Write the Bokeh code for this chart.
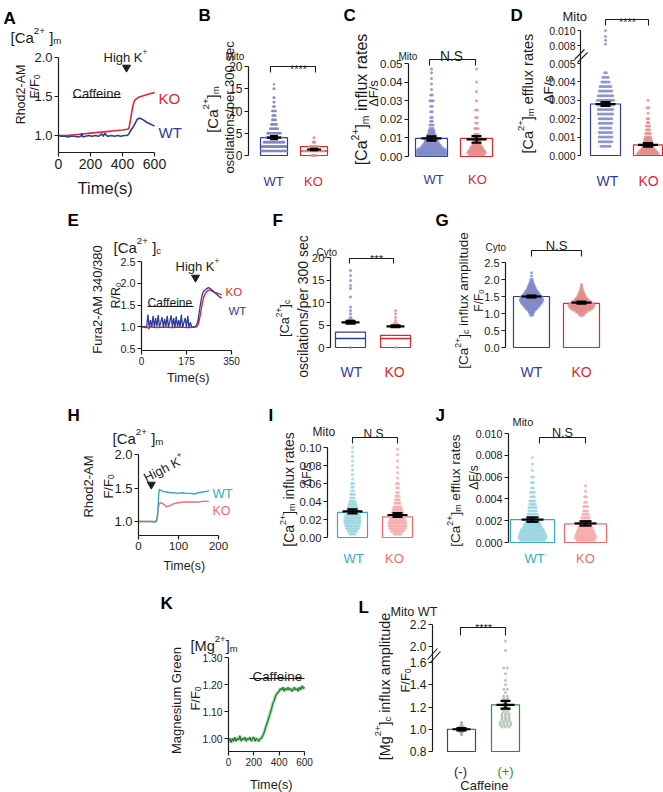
import math
from bokeh.plotting import figure
from bokeh.models import Range1d, FixedTicker, Label
from bokeh.layouts import row, column
from bokeh.embed import file_html
from bokeh.resources import INLINE

# ======================= DATA =======================
# ---- A : Rhod2-AM [Ca2+]m traces (caffeine, high K+) ----
A_KO_t = [0, 50, 100, 150, 200, 250, 300, 350, 400, 430, 440, 450, 460, 470, 480, 500, 530, 560, 600]
A_KO_y = [1.00, 1.00, 1.01, 1.02, 1.03, 1.04, 1.05, 1.06, 1.07, 1.08, 1.09, 1.20, 1.33, 1.42, 1.46, 1.49, 1.51, 1.53, 1.55]
A_WT_t = [0, 20, 40, 60, 80, 100, 120, 140, 146, 152, 170, 190, 210, 230, 250, 270, 280, 290, 300, 310, 330, 350, 370, 390, 410, 430, 440, 450, 460, 470, 480, 490, 500, 510, 530, 550, 570, 600]
A_WT_y = [1.00, 0.99, 0.99, 0.98, 0.99, 0.99, 0.98, 0.99, 1.03, 0.98, 0.99, 1.00, 0.99, 1.00, 0.99, 1.02, 0.99, 1.03, 1.00, 0.99, 1.00, 0.99, 1.00, 0.99, 1.00, 1.00, 1.02, 1.06, 1.09, 1.12, 1.16, 1.20, 1.22, 1.22, 1.20, 1.17, 1.15, 1.12]
A_caffeine = [90, 390]
A_highK = 425

# ---- B : [Ca2+]m oscillations / 300 s ----
B_WT_vals = [1, 2, 3, 4, 5, 6, 7, 8, 9, 10, 11, 12, 13, 15, 16]
B_WT_counts = [40, 34, 30, 24, 20, 12, 9, 6, 5, 6, 3, 2, 2, 2, 1]
B_KO_vals = [0, 1, 2, 3, 4]
B_KO_counts = [8, 30, 14, 4, 2]
B_box = {"WT": (0, 4.0, 2.0), "KO": (0, 2.0, 1.0)}          # q1, q3, median
B_mean = {"WT": (4.0, 0.35), "KO": (1.35, 0.15)}            # mean, sem

# ---- C : [Ca2+]m influx rates ----
C_WT_vals = [0.001, 0.002, 0.003, 0.004, 0.005, 0.006, 0.007, 0.008, 0.009, 0.010, 0.011, 0.012, 0.013, 0.014, 0.015, 0.017, 0.019, 0.021, 0.024, 0.027, 0.030, 0.033, 0.036, 0.039, 0.042, 0.045, 0.047]
C_WT_counts = [20, 24, 22, 18, 14, 12, 10, 9, 8, 7, 6, 5, 4, 4, 3, 3, 2, 2, 2, 2, 3, 2, 1, 1, 1, 1, 1]
C_KO_vals = [0.001, 0.002, 0.003, 0.004, 0.005, 0.006, 0.007, 0.008, 0.009, 0.010, 0.012, 0.015, 0.018, 0.021, 0.025, 0.030, 0.035, 0.040, 0.047]
C_KO_counts = [10, 12, 11, 9, 8, 6, 5, 5, 4, 4, 3, 3, 2, 2, 2, 1, 1, 1, 1]
C_bar = {"WT": 0.0097, "KO": 0.0097}
C_mean = {"WT": (0.0097, 0.0012), "KO": (0.0092, 0.0018)}

# ---- D : [Ca2+]m efflux rates (broken axis) ----
D_WT_vals = [0.0005, 0.00075, 0.0010, 0.00125, 0.0015, 0.00175, 0.0020, 0.00225, 0.0025, 0.00275, 0.0030, 0.00325, 0.0035, 0.00375, 0.0040, 0.00425, 0.0045, 0.0082, 0.0087, 0.0092, 0.0100]
D_WT_counts = [6, 8, 8, 8, 7, 8, 8, 9, 9, 10, 10, 9, 8, 7, 5, 4, 2, 1, 1, 1, 1]
D_KO_vals = [0.0001, 0.0002, 0.0003, 0.0004, 0.0005, 0.0006, 0.0007, 0.0008, 0.0009, 0.0010, 0.0012, 0.0014, 0.0016, 0.0018, 0.0020, 0.0023, 0.0026, 0.0030]
D_KO_counts = [14, 12, 10, 8, 8, 7, 6, 5, 5, 4, 4, 3, 3, 2, 2, 1, 2, 1]
D_bar = {"WT": 0.0028, "KO": 0.00058}
D_mean = {"WT": (0.0028, 0.0001), "KO": (0.00058, 0.0001)}

# ---- E : Fura2 [Ca2+]c traces ----
E_WT_t = [0, 5, 10, 15, 20, 25, 30, 35, 40, 45, 50, 55, 60, 65, 70, 75, 80, 85, 90, 95, 100, 105, 110, 115, 120, 125, 130, 135, 140, 145, 150, 155, 160, 165, 170, 175, 180, 185, 190, 195, 200, 205, 210, 215, 220, 225, 230, 235, 240, 250, 260, 265, 275, 285, 295, 305, 312]
E_WT_y = [1.00, 0.99, 1.00, 0.98, 1.00, 1.28, 0.98, 1.15, 0.99, 1.25,
          0.98, 1.20, 1.00, 1.27, 0.99, 1.10, 1.22, 0.98, 1.18, 1.00,
          1.25, 0.98, 1.12, 1.26, 0.99, 1.20, 0.98, 1.24, 1.00, 1.15,
          0.99, 1.28, 0.98, 1.10, 1.20, 0.99, 1.25, 0.98, 1.10, 1.00,
          0.99, 1.00, 1.01, 1.05, 1.15, 1.35, 1.55, 1.70, 1.80,
          1.86, 1.90, 1.89, 1.84, 1.78, 1.73, 1.68, 1.66]
E_KO_t = [0, 20, 28, 35, 45, 60, 80, 100, 120, 140, 160, 180, 200, 215, 222, 228, 235, 242, 250, 258, 265, 275, 285, 295, 305, 312]
E_KO_y = [1.00, 1.00, 0.96, 1.00, 0.99, 0.98, 0.99, 0.99, 0.98, 0.99, 0.99, 0.98, 0.99, 1.00, 1.08, 1.25, 1.50, 1.68, 1.78, 1.83, 1.85, 1.82, 1.79, 1.77, 1.75, 1.74]
E_caffeine = [23, 202]
E_highK = 210

# ---- F : [Ca2+]c oscillations / 300 s ----
F_WT_vals = [0, 5.9, 6.2, 6.7, 7.5, 8.2, 9.0, 11.2, 13.1, 13.8, 14.9, 16.0, 17.1]
F_WT_counts = [1, 2, 2, 1, 1, 1, 1, 1, 1, 1, 1, 1, 1]
F_KO_vals = [0, 5.4, 6.0, 6.7, 7.5, 8.2]
F_KO_counts = [1, 2, 1, 1, 1, 1]
F_box = {"WT": (0, 3.4, 2.0), "KO": (0, 2.7, 2.0)}
F_mean = {"WT": (5.6, 0.3), "KO": (4.7, 0.2)}

# ---- G : [Ca2+]c influx amplitude ----
G_WT_vals = [0.95, 1.0, 1.05, 1.1, 1.15, 1.2, 1.25, 1.3, 1.35, 1.4, 1.45, 1.5, 1.55, 1.6, 1.65, 1.7, 1.75, 1.8, 1.85, 1.9, 1.95, 2.0, 2.1, 2.2]
G_WT_counts = [2, 3, 4, 6, 8, 10, 12, 14, 15, 16, 15, 14, 12, 10, 9, 7, 6, 5, 4, 3, 2, 2, 1, 1]
G_KO_vals = [0.95, 1.0, 1.05, 1.1, 1.15, 1.2, 1.25, 1.3, 1.35, 1.4, 1.45, 1.5, 1.55, 1.6, 1.65, 1.7, 1.75, 1.8, 1.85]
G_KO_counts = [3, 5, 8, 12, 15, 17, 18, 16, 13, 10, 8, 6, 5, 4, 3, 2, 2, 1, 1]
G_bar = {"WT": 1.5, "KO": 1.3}
G_mean = {"WT": (1.5, 0.03), "KO": (1.32, 0.03)}

# ---- H : Rhod2-AM [Ca2+]m, high K+ ----
H_t = [0, 10, 20, 30, 40, 45, 48, 50, 52, 55, 60, 70, 80, 90, 100, 110, 120, 130, 140, 150, 160, 170, 176]
H_WT_y = [1.00, 1.00, 1.00, 1.00, 0.99, 1.00, 1.10, 1.35, 1.48, 1.47, 1.45, 1.44, 1.43, 1.43, 1.42, 1.43, 1.42, 1.42, 1.41, 1.43, 1.44, 1.45, 1.46]
H_KO_y = [1.00, 1.00, 1.00, 1.00, 1.00, 1.02, 1.12, 1.22, 1.27, 1.28, 1.27, 1.22, 1.24, 1.27, 1.28, 1.29, 1.29, 1.29, 1.29, 1.29, 1.30, 1.30, 1.30]
H_highK = 32

# ---- I : [Ca2+]m influx rates ----
I_WT_vals = [0.004, 0.007, 0.010, 0.013, 0.016, 0.019, 0.022, 0.025, 0.028, 0.031, 0.034, 0.037, 0.040, 0.044, 0.048, 0.052, 0.056, 0.060, 0.065, 0.070, 0.075, 0.080, 0.085, 0.090, 0.095, 0.100]
I_WT_counts = [4, 6, 8, 9, 10, 10, 10, 9, 8, 7, 6, 5, 4, 3, 3, 2, 2, 2, 1, 1, 1, 1, 1, 1, 1, 1]
I_KO_vals = [0.004, 0.007, 0.010, 0.013, 0.016, 0.019, 0.022, 0.025, 0.028, 0.031, 0.034, 0.038, 0.042, 0.046, 0.050, 0.055, 0.060, 0.066, 0.072, 0.078, 0.085, 0.092, 0.098]
I_KO_counts = [5, 8, 10, 11, 11, 10, 9, 8, 7, 6, 5, 4, 3, 3, 2, 2, 2, 1, 1, 1, 1, 1, 1]
I_bar = {"WT": 0.028, "KO": 0.023}
I_mean = {"WT": (0.029, 0.0022), "KO": (0.025, 0.0022)}

# ---- J : [Ca2+]m efflux rates ----
J_WT_vals = [0.0002, 0.0004, 0.0006, 0.0008, 0.0010, 0.0012, 0.0014, 0.0016, 0.0018, 0.0020, 0.0023, 0.0026, 0.0029, 0.0032, 0.0035, 0.0038, 0.0042, 0.0046, 0.0050, 0.0055, 0.0060, 0.0066, 0.0072, 0.0078]
J_WT_counts = [14, 16, 16, 15, 14, 13, 11, 10, 9, 8, 7, 6, 5, 5, 4, 4, 3, 3, 2, 2, 2, 1, 1, 1]
J_KO_vals = [0.0002, 0.0004, 0.0006, 0.0008, 0.0010, 0.0012, 0.0014, 0.0016, 0.0018, 0.0020, 0.0023, 0.0026, 0.0029, 0.0033, 0.0037, 0.0042, 0.0047, 0.0052]
J_KO_counts = [10, 12, 12, 11, 10, 9, 8, 7, 6, 5, 5, 4, 3, 3, 2, 2, 1, 1]
J_bar = {"WT": 0.0021, "KO": 0.0017}
J_mean = {"WT": (0.0021, 0.0002), "KO": (0.00175, 0.0002)}

# ---- K : Magnesium Green [Mg2+]m ----
K_t = [0, 10, 20, 30, 40, 50, 60, 70, 80, 90, 100, 110, 120, 130, 140, 150, 160, 170, 180, 190, 200,
       210, 220, 230, 240, 250, 260, 270, 280, 290, 300, 310, 320, 330, 340, 350, 360, 370, 380, 390, 400,
       410, 420, 430, 440, 450, 460, 470, 480, 490, 500, 510, 520, 530, 540, 550, 560, 570, 580, 590, 600]
K_y = [0.99, 1.00, 0.985, 1.00, 0.99, 1.005, 0.99, 1.00, 0.995, 1.01, 0.99, 1.00, 0.995, 1.005, 0.99, 1.00, 0.995, 1.005, 0.99, 1.00, 1.005,
       0.99, 1.00, 0.995, 0.99, 1.00, 1.00, 1.01, 1.02, 1.035, 1.05, 1.065, 1.08, 1.095, 1.11, 1.13, 1.14, 1.155, 1.165, 1.17, 1.175,
       1.185, 1.18, 1.19, 1.175, 1.185, 1.18, 1.19, 1.18, 1.185, 1.175, 1.18, 1.19, 1.18, 1.185, 1.175, 1.19, 1.18, 1.195, 1.185, 1.19]
K_caffeine = [166, 600]

# ---- L : [Mg2+]c influx amplitude, Mito WT ----
L_neg_vals = [0.95, 0.97, 0.98, 0.99, 1.00, 1.01, 1.02, 1.04, 1.06]
L_neg_counts = [1, 1, 2, 3, 4, 3, 2, 1, 1]
L_pos_vals = [1.02, 1.04, 1.06, 1.08, 1.10, 1.12, 1.14, 1.16, 1.18, 1.20, 1.22, 1.24, 1.26, 1.28, 1.30, 1.33, 1.36, 1.40, 1.44, 1.50, 1.55, 1.90, 2.05]
L_pos_counts = [3, 4, 4, 3, 3, 3, 3, 2, 3, 2, 2, 2, 2, 2, 2, 1, 2, 1, 1, 1, 2, 1, 1]
L_bar = {"neg": 1.0, "pos": 1.22}
L_mean = {"neg": (1.0, 0.01), "pos": (1.22, 0.035)}

# ======================= STYLE / HELPERS =======================
FONT = "Liberation Sans"
INK = "#1c1c1c"
WT_BLUE, KO_RED = "#2f3c9c", "#e0282a"
WT_PT, KO_PT = "#7f87c8", "#e58a8a"
CYAN, SALMON = "#33adbd", "#f26a6a"
CYAN_PT, SALMON_PT = "#93d3dd", "#f6a5a5"
GREEN = "#2e8b3e"

AW = {c: 556 for c in "0123456789"}
AW.update({' ': 278, '(': 333, ')': 333, '*': 389, '+': 584, '-': 333, '.': 278, '/': 278, '[': 278, ']': 278,
           'A': 667, 'C': 722, 'F': 611, 'G': 778, 'H': 722, 'K': 667, 'M': 833, 'N': 722, 'O': 778, 'R': 722,
           'S': 667, 'T': 611, 'W': 944, 'a': 556, 'c': 500, 'd': 556, 'e': 556, 'f': 278, 'g': 556, 'h': 556,
           'i': 222, 'l': 222, 'm': 833, 'n': 556, 'o': 556, 'p': 556, 'r': 333, 's': 500, 't': 278, 'u': 556,
           'x': 500, 'y': 500, 'Δ': 668})


def tw(t, s):
    return sum(AW.get(c, 556) for c in t) * s / 1000.0


class Panel:
    """A figure whose frame is its whole canvas; page pixel <-> data mapping from two calibration points."""

    def __init__(self, canvas, xcal, ycal):
        cx0, cy0, cx1, cy1 = canvas
        (xa, pxa), (xb, pxb) = xcal
        (ya, pya), (yb, pyb) = ycal
        self.kx = (xb - xa) / (pxb - pxa)
        self.ky = (yb - ya) / (pyb - pya)
        self.xa, self.pxa, self.ya, self.pya = xa, pxa, ya, pya
        self.x0, self.x1 = self.X(cx0), self.X(cx1)
        self.y0, self.y1 = self.Y(cy1), self.Y(cy0)
        p = figure(width=cx1 - cx0, height=cy1 - cy0,
                   x_range=Range1d(self.x0, self.x1), y_range=Range1d(self.y0, self.y1),
                   min_border=0, min_border_left=0, min_border_right=0,
                   min_border_top=0, min_border_bottom=0,
                   output_backend="svg", toolbar_location=None)
        p.title.visible = False
        p.outline_line_color = None
        p.grid.visible = False
        p.background_fill_color = "white"
        p.border_fill_color = "white"
        self.p = p

    def X(self, px):
        return self.xa + (px - self.pxa) * self.kx

    def Y(self, py):
        return self.ya + (py - self.pya) * self.ky

    def W(self, pxw):
        return pxw * self.kx


def style_axis(ax, ticks, labels, bounds, size, loc, tick_out=4):
    ax.fixed_location = loc
    ax.ticker = FixedTicker(ticks=list(ticks), minor_ticks=[])
    ax.major_label_overrides = {t: l for t, l in zip(ticks, labels)}
    ax.bounds = bounds
    ax.axis_line_color = INK
    ax.axis_line_width = 1.2
    ax.major_tick_line_color = INK
    ax.major_tick_line_width = 1.2
    ax.major_tick_in = 0
    ax.major_tick_out = tick_out
    ax.minor_tick_line_color = None
    ax.major_label_standoff = 2
    ax.major_label_text_font = FONT
    ax.major_label_text_font_size = f"{size:.1f}px"
    ax.major_label_text_color = INK


def txt(P, X, Y, parts, s, color=INK, anchor="left", angle_deg=0.0):
    """Composite text (normal / superscript / subscript pieces) anchored on its baseline at page (X, Y)."""
    if isinstance(parts, str):
        parts = [(parts, "n")]
    a = math.radians(angle_deg)
    dx, dy = math.cos(a), -math.sin(a)
    ux, uy = -math.sin(a), -math.cos(a)
    segs, total = [], 0.0
    for t, m in parts:
        ss = s if m == "n" else s * 0.65
        w = tw(t, ss)
        segs.append((t, m, ss, w))
        total += w
    pos = {"left": 0.0, "center": -total / 2.0, "right": -total}[anchor]
    for t, m, ss, w in segs:
        lead = len(t) - len(t.lstrip(" "))
        core = t.strip(" ")
        start = pos + tw(" " * lead, ss)
        off = 0.0 if m == "n" else (0.42 * s if m == "sup" else -0.22 * s)
        px = X + dx * start + ux * off
        py = Y + dy * start + uy * off
        if core:
            P.p.add_layout(Label(x=P.X(px), y=P.Y(py), text=core, angle=a, angle_units="rad",
                                 text_font=FONT, text_font_size=f"{ss:.2f}px", text_color=color,
                                 text_align="left", text_baseline="alphabetic"))
        pos += w


def letter(P, X, Y, t):
    P.p.add_layout(Label(x=P.X(X), y=P.Y(Y), text=t, text_font=FONT, text_font_style="bold",
                         text_font_size="17px", text_color="black", text_align="left",
                         text_baseline="alphabetic"))


def swarm(P, xc, vals, counts, color, step=1.7, maxhw=14, size=3.0, alpha=0.8, T=None):
    xs, ys = [], []
    for v, n in zip(vals, counts):
        if n <= 0:
            continue
        d = min(step, 2.0 * maxhw / n)
        for i in range(n):
            xs.append(xc + P.W((i - (n - 1) / 2.0) * d))
            ys.append(T(v) if T else v)
    P.p.scatter(xs, ys, size=size, fill_color=color, line_color=None, fill_alpha=alpha)


def errbar(P, xc, mean, sem, hw=9, cap=5, T=None, lw=2.2):
    f = T or (lambda v: v)
    m, lo, hi = f(mean), f(mean - sem), f(mean + sem)
    P.p.segment(x0=[xc - P.W(hw), xc, xc - P.W(cap), xc - P.W(cap)], y0=[m, lo, lo, hi],
                x1=[xc + P.W(hw), xc, xc + P.W(cap), xc + P.W(cap)], y1=[m, hi, lo, hi],
                line_color="black", line_width=lw)


def bracket(P, px0, px1, py_top, py_bot):
    P.p.line([P.X(px0), P.X(px0), P.X(px1), P.X(px1)],
             [P.Y(py_bot), P.Y(py_top), P.Y(py_top), P.Y(py_bot)], line_color=INK, line_width=1.1)


def bar(P, xc, top, bottom, wpx, color, lw=1.2):
    P.p.quad(left=[xc - P.W(wpx / 2.0)], right=[xc + P.W(wpx / 2.0)], top=[top], bottom=[bottom],
             fill_color=None, line_color=color, line_width=lw)


def boxp(P, xc, q1, q3, med, wpx, color, lw=1.2):
    bar(P, xc, q3, q1, wpx, color, lw)
    P.p.segment(x0=[xc - P.W(wpx / 2.0)], y0=[med], x1=[xc + P.W(wpx / 2.0)], y1=[med],
                line_color=color, line_width=1.6)


def brk(P, pts):
    for (xa, ya, xb, yb) in pts:
        P.p.line([P.X(xa), P.X(xb)], [P.Y(ya), P.Y(yb)], line_color=INK, line_width=1.1)


CA_M = [("[Ca", "n"), ("2+", "sup"), ("]", "n"), ("m", "sub")]
CA_C = [("[Ca", "n"), ("2+", "sup"), ("]", "n"), ("c", "sub")]
FF0 = [("F/F", "n"), ("0", "sub")]
HIGHK = [("High K", "n"), ("+", "sup")]

# ======================= PANEL A =======================
PA = Panel((0, 0, 182, 200), ((0, 58), (600, 154)), ((1.0, 135), (2.0, 57)))
style_axis(PA.p.yaxis[0], [1.0, 1.5, 2.0], ["1.0", "1.5", "2.0"], (PA.Y(152), 2.0), 13, PA.X(58))
style_axis(PA.p.xaxis[0], [0, 200, 400, 600], ["0", "200", "400", "600"], (0, 600), 14, PA.Y(152))
PA.p.line(A_KO_t, A_KO_y, line_color=KO_RED, line_width=1.6)
PA.p.line(A_WT_t, A_WT_y, line_color=WT_BLUE, line_width=1.6)
PA.p.line(A_caffeine, [PA.Y(97)] * 2, line_color=INK, line_width=1.2)
PA.p.scatter([A_highK], [PA.Y(67)], marker="inverted_triangle", size=8, fill_color=INK, line_color=INK)
letter(PA, 3, 18, "A")
txt(PA, 10, 37, [("[Ca", "n"), ("2+", "sup"), (" ]", "n"), ("m", "sub")], 15)
txt(PA, 20, 94, "Rhod2-AM", 12.5, anchor="center", angle_deg=90)
txt(PA, 34, 86, FF0, 13, anchor="center", angle_deg=90)
txt(PA, 103, 57, HIGHK, 13)
txt(PA, 72, 93, "Caffeine", 13)
txt(PA, 158, 98, "KO", 15, KO_RED)
txt(PA, 158, 132, "WT", 15, WT_BLUE)
txt(PA, 105, 187, "Time(s)", 16.5, anchor="center")

# ======================= PANEL B =======================
PB = Panel((182, 0, 338, 200), ((1, 273.5), (2, 313.5)), ((0, 155), (20, 66)))
style_axis(PB.p.yaxis[0], [0, 5, 10, 15, 20], ["0", "5", "10", "15", "20"], (0, 20), 12, PB.X(248))
PB.p.xaxis.visible = False
boxp(PB, 1, *B_box["WT"], 27, WT_BLUE)
boxp(PB, 2, *B_box["KO"], 27, KO_RED)
swarm(PB, 1, B_WT_vals, B_WT_counts, WT_PT, step=0.7, maxhw=13, size=2.6)
swarm(PB, 2, B_KO_vals, B_KO_counts, KO_PT, step=0.7, maxhw=13, size=2.6)
errbar(PB, 1, *B_mean["WT"], hw=7, cap=4)
errbar(PB, 2, *B_mean["KO"], hw=7, cap=4)
bracket(PB, 270, 315, 66, 72)
letter(PB, 198, 15, "B")
txt(PB, 225, 56, "Mito", 10)
txt(PB, 298, 68, "****", 11, anchor="center")
txt(PB, 212, 109, CA_M, 15, anchor="center", angle_deg=90)
txt(PB, 229, 107, "oscilations/per 300 sec", 13, anchor="center", angle_deg=90)
txt(PB, 273, 181, "WT", 13, WT_BLUE, anchor="center")
txt(PB, 313, 181, "KO", 13, KO_RED, anchor="center")

# ======================= PANEL C =======================
PC = Panel((338, 0, 500, 200), ((1, 431), (2, 476)), ((0, 156), (0.05, 63)))
cticks = [0.0, 0.01, 0.02, 0.03, 0.04, 0.05]
style_axis(PC.p.yaxis[0], cticks, ["0.00", "0.01", "0.02", "0.03", "0.04", "0.05"], (0, 0.05), 11.5, PC.X(408))
PC.p.xaxis.visible = False
bar(PC, 1, C_bar["WT"], 0, 32, WT_BLUE)
bar(PC, 2, C_bar["KO"], 0, 32, KO_RED)
swarm(PC, 1, C_WT_vals, C_WT_counts, WT_PT, step=1.6, maxhw=15)
swarm(PC, 2, C_KO_vals, C_KO_counts, KO_PT, step=1.6, maxhw=15)
errbar(PC, 1, *C_mean["WT"], hw=10, cap=5)
errbar(PC, 2, *C_mean["KO"], hw=10, cap=5)
bracket(PC, 429, 475, 59, 65)
letter(PC, 343, 15, "C")
txt(PC, 398, 56, "Mito", 10)
txt(PC, 451, 56, "N.S", 13.8, anchor="center")
txt(PC, 361, 99, CA_M + [(" influx rates", "n")], 16, anchor="center", angle_deg=90)
txt(PC, 373, 93, "ΔF/s", 13, anchor="center", angle_deg=90)
txt(PC, 433, 179, "WT", 13, WT_BLUE, anchor="center")
txt(PC, 477, 179, "KO", 13, KO_RED, anchor="center")


# ======================= PANEL D (broken axis) =======================
def D_T(v):
    lo_px = 92.0 / 0.005
    if v <= 0.005:
        return v
    if v < 0.008:
        return 0.005 + (v - 0.005) * (18.0 / 0.003) / lo_px
    return 0.005 + 18.0 / lo_px + (v - 0.008) * 7500.0 / lo_px


PD = Panel((500, 0, 663, 200), ((1, 605), (2, 647.5)), ((0, 155), (0.005, 63)))
d_vals = [0.0, 0.001, 0.002, 0.003, 0.004, 0.005, 0.008, 0.010]
d_ticks = [D_T(v) for v in d_vals]
style_axis(PD.p.yaxis[0], d_ticks, ["0.000", "0.001", "0.002", "0.003", "0.004", "0.005", "0.008", "0.010"],
           (0, D_T(0.010)), 10.5, PD.X(580), tick_out=3)
PD.p.xaxis.visible = False
bar(PD, 1, D_bar["WT"], 0, 30, WT_BLUE)
bar(PD, 2, D_bar["KO"], 0, 29, KO_RED)
swarm(PD, 1, D_WT_vals, D_WT_counts, WT_PT, step=1.8, maxhw=13, T=D_T)
swarm(PD, 2, D_KO_vals, D_KO_counts, KO_PT, step=1.6, maxhw=13, T=D_T)
errbar(PD, 1, *D_mean["WT"], hw=10, cap=5, T=D_T)
errbar(PD, 2, *D_mean["KO"], hw=10, cap=5, T=D_T)
bracket(PD, 605, 648, 19, 25)
brk(PD, [(574, 59, 584, 49), (577, 62, 587, 52)])
letter(PD, 510, 15, "D")
txt(PD, 562, 16, "Mito", 13)
txt(PD, 627, 21, "****", 11, anchor="center")
txt(PD, 527, 93, CA_M + [(" efflux rates", "n")], 14.5, anchor="center", angle_deg=90)
txt(PD, 548, 89, "ΔF/s", 13.6, anchor="center", angle_deg=90)
txt(PD, 607, 180, "WT", 14, WT_BLUE, anchor="center")
txt(PD, 648, 180, "KO", 14, KO_RED, anchor="center")

# ======================= PANEL E =======================
PE = Panel((0, 200, 268, 388), ((0, 141), (350, 231)), ((0.5, 348), (2.5, 261)))
style_axis(PE.p.yaxis[0], [0.5, 1.0, 1.5, 2.0, 2.5], ["0.5", "1.0", "1.5", "2.0", "2.5"], (PE.Y(350), 2.5), 10.8, PE.X(141))
style_axis(PE.p.xaxis[0], [0, 175, 350], ["0", "175", "350"], (0, 350), 10, PE.Y(350))
PE.p.line(E_KO_t, E_KO_y, line_color=KO_RED, line_width=1.4)
PE.p.line(E_WT_t, E_WT_y, line_color=WT_BLUE, line_width=1.3)
PE.p.line(E_caffeine, [PE.Y(306)] * 2, line_color=INK, line_width=1.2)
PE.p.scatter([E_highK], [PE.Y(277)], marker="inverted_triangle", size=8, fill_color=INK, line_color=INK)
letter(PE, 67, 220, "E")
txt(PE, 113, 247, [("[Ca", "n"), ("2+", "sup"), (" ]", "n"), ("c", "sub")], 15)
txt(PE, 97, 299, "Fura2-AM 340/380", 13, anchor="center", angle_deg=90)
txt(PE, 115, 295, [("R/R", "n"), ("0", "sub")], 12.5, anchor="center", angle_deg=90)
txt(PE, 147, 302, "Caffeine", 12.1)
txt(PE, 175, 266, HIGHK, 13)
txt(PE, 225, 291, "KO", 11.5, KO_RED)
txt(PE, 228, 310, "WT", 11.5, WT_BLUE)
txt(PE, 188, 377, "Time(s)", 12.7, anchor="center")

# ======================= PANEL F =======================
PF = Panel((268, 200, 425, 388), ((1, 350), (2, 395)), ((0, 347), (10, 302)))
style_axis(PF.p.yaxis[0], [0, 5, 10, 15, 20], ["0", "5", "10", "15", "20"], (0, 20), 11.4, PF.X(330))
PF.p.xaxis.visible = False
boxp(PF, 1, *F_box["WT"], 30, WT_BLUE)
boxp(PF, 2, *F_box["KO"], 30, KO_RED)
swarm(PF, 1, F_WT_vals, F_WT_counts, WT_PT, step=2.5, maxhw=10, size=3)
swarm(PF, 2, F_KO_vals, F_KO_counts, KO_PT, step=2.5, maxhw=10, size=3)
errbar(PF, 1, *F_mean["WT"], hw=9, cap=5)
errbar(PF, 2, *F_mean["KO"], hw=9, cap=5)
bracket(PF, 349, 393, 258, 263)
letter(PF, 272, 220, "F")
txt(PF, 316, 252, "Cyto", 10)
txt(PF, 284, 318, CA_C, 12.8, anchor="center", angle_deg=90)
txt(PF, 302, 306, "oscilations/per 300 sec", 14, anchor="center", angle_deg=90)
txt(PF, 376, 258, "***", 11, anchor="center")
txt(PF, 351, 371, "WT", 14, WT_BLUE, anchor="center")
txt(PF, 394, 371, "KO", 14, KO_RED, anchor="center")

# ======================= PANEL G =======================
PG = Panel((425, 200, 663, 388), ((1, 531), (2, 581)), ((0, 347), (2.5, 262)))
style_axis(PG.p.yaxis[0], [0.0, 0.5, 1.0, 1.5, 2.0, 2.5], ["0.0", "0.5", "1.0", "1.5", "2.0", "2.5"], (0, 2.5), 11, PG.X(505))
PG.p.xaxis.visible = False
bar(PG, 1, G_bar["WT"], 0, 36, WT_BLUE)
bar(PG, 2, G_bar["KO"], 0, 36, KO_RED)
swarm(PG, 1, G_WT_vals, G_WT_counts, WT_PT, step=1.5, maxhw=18)
swarm(PG, 2, G_KO_vals, G_KO_counts, KO_PT, step=1.5, maxhw=18)
errbar(PG, 1, *G_mean["WT"], hw=10, cap=5)
errbar(PG, 2, *G_mean["KO"], hw=10, cap=5)
bracket(PG, 531, 581, 250, 256)
letter(PG, 435, 220, "G")
txt(PG, 485, 247, "Cyto", 10)
txt(PG, 556, 245, "N.S", 13, anchor="center")
txt(PG, 463, 300, CA_C + [(" influx amplitude", "n")], 13.5, anchor="center", angle_deg=90)
txt(PG, 478, 300, FF0, 12, anchor="center", angle_deg=90)
txt(PG, 531, 371, "WT", 14, WT_BLUE, anchor="center")
txt(PG, 581, 371, "KO", 14, KO_RED, anchor="center")

# ======================= PANEL H =======================
PH = Panel((0, 388, 262, 580), ((0, 138), (200, 218)), ((1.0, 521), (2.0, 454)))
style_axis(PH.p.yaxis[0], [1.0, 1.5, 2.0], ["1.0", "1.5", "2.0"], (PH.Y(535), 2.0), 13, PH.X(138))
style_axis(PH.p.xaxis[0], [0, 100, 200], ["0", "100", "200"], (0, 200), 11.5, PH.Y(535))
PH.p.line(H_t, H_KO_y, line_color=SALMON, line_width=1.4)
PH.p.line(H_t, H_WT_y, line_color=CYAN, line_width=1.4)
PH.p.scatter([H_highK], [PH.Y(484)], marker="inverted_triangle", size=8, fill_color=INK, line_color=INK)
letter(PH, 67, 415, "H")
txt(PH, 112, 438, [("[Ca", "n"), ("2+", "sup"), (" ]", "n"), ("m", "sub")], 15)
txt(PH, 88, 486, "Rhod2-AM", 13, anchor="center", angle_deg=90)
txt(PH, 108, 486, FF0, 13, anchor="center", angle_deg=90)
txt(PH, 144, 478, HIGHK, 13, angle_deg=27)
txt(PH, 212, 493, "WT", 13, CYAN)
txt(PH, 212, 510, "KO", 12.5, SALMON)
txt(PH, 184, 565, "Time(s)", 12.4, anchor="center")

# ======================= PANEL I =======================
PI = Panel((262, 388, 430, 580), ((1, 352), (2, 397)), ((0, 537), (0.1, 447)))
iticks = [0.0, 0.02, 0.04, 0.06, 0.08, 0.1]
style_axis(PI.p.yaxis[0], iticks, ["0.00", "0.02", "0.04", "0.06", "0.08", "0.10"], (0, 0.1), 11.3, PI.X(327))
PI.p.xaxis.visible = False
bar(PI, 1, I_bar["WT"], 0, 30, CYAN)
bar(PI, 2, I_bar["KO"], 0, 30, SALMON)
swarm(PI, 1, I_WT_vals, I_WT_counts, CYAN_PT, step=1.7, maxhw=14)
swarm(PI, 2, I_KO_vals, I_KO_counts, SALMON_PT, step=1.7, maxhw=14)
errbar(PI, 1, *I_mean["WT"], hw=10, cap=5)
errbar(PI, 2, *I_mean["KO"], hw=10, cap=5)
bracket(PI, 352, 397, 437, 443)
letter(PI, 268, 415, "I")
txt(PI, 312, 431, "Mito", 12)
txt(PI, 373, 433, "N.S", 12, anchor="center")
txt(PI, 288, 489, CA_M + [(" influx rates", "n")], 13.9, anchor="center", angle_deg=90)
txt(PI, 306, 474, "ΔF/s", 12, anchor="center", angle_deg=90)
txt(PI, 353, 558, "WT", 13, CYAN, anchor="center")
txt(PI, 394, 558, "KO", 13, SALMON, anchor="center")

# ======================= PANEL J =======================
PJ = Panel((430, 388, 663, 580), ((1, 532), (2, 585)), ((0, 542), (0.01, 433)))
jticks = [0.0, 0.002, 0.004, 0.006, 0.008, 0.01]
style_axis(PJ.p.yaxis[0], jticks, ["0.000", "0.002", "0.004", "0.006", "0.008", "0.010"], (0, 0.01), 10.7, PJ.X(508))
PJ.p.xaxis.visible = False
bar(PJ, 1, J_bar["WT"], 0, 44, CYAN)
bar(PJ, 2, J_bar["KO"], 0, 42, SALMON)
swarm(PJ, 1, J_WT_vals, J_WT_counts, CYAN_PT, step=1.8, maxhw=19)
swarm(PJ, 2, J_KO_vals, J_KO_counts, SALMON_PT, step=1.8, maxhw=18)
errbar(PJ, 1, *J_mean["WT"], hw=11, cap=6)
errbar(PJ, 2, *J_mean["KO"], hw=11, cap=6)
bracket(PJ, 539, 585, 437, 443)
letter(PJ, 435, 415, "J")
txt(PJ, 512, 421, "Mito", 11)
txt(PJ, 562, 432, "N.S", 12.6, anchor="center")
txt(PJ, 455, 490, CA_M + [(" efflux rates", "n")], 13.6, anchor="center", angle_deg=90)
txt(PJ, 473, 477, "ΔF/s", 12, anchor="center", angle_deg=90)
txt(PJ, 534, 558, "WT", 13, CYAN, anchor="center")
txt(PJ, 585, 558, "KO", 13, SALMON, anchor="center")

# ======================= PANEL K =======================
PK = Panel((0, 580, 355, 792), ((0, 228), (600, 304)), ((1.0, 738), (1.3, 657)))
style_axis(PK.p.yaxis[0], [1.0, 1.1, 1.2, 1.3], ["1.00", "1.10", "1.20", "1.30"], (PK.Y(751), 1.3), 10.3, PK.X(228))
style_axis(PK.p.xaxis[0], [0, 200, 400, 600], ["0", "200", "400", "600"], (0, 600), 10, PK.Y(751))
PK.p.line(K_t, K_y, line_color="#8fcf8f", line_width=3.5, line_alpha=0.7)
PK.p.line(K_t, K_y, line_color="#1f7a32", line_width=1.2)
PK.p.line(K_caffeine, [PK.Y(678)] * 2, line_color=INK, line_width=1.2)
letter(PK, 160, 603, "K")
txt(PK, 190, 645, [("[Mg", "n"), ("2+", "sup"), ("]", "n"), ("m", "sub")], 14.6)
txt(PK, 195, 698, FF0, 13, anchor="center", angle_deg=90)
txt(PK, 176, 700, "Magnesium Green", 13, anchor="center", angle_deg=90)
txt(PK, 252, 676, "Caffeine", 13.4)
txt(PK, 271, 784, "Time(s)", 12.7, anchor="center")


# ======================= PANEL L (broken axis) =======================
def L_T(v):
    k = 111.25
    if v <= 1.6:
        return v
    if v < 2.0:
        return 1.6 + (v - 1.6) * (16.0 / k) / 0.4
    return 1.6 + 16.0 / k + (v - 2.0) * (110.0 / k)


PL = Panel((355, 580, 663, 792), ((1, 461), (2, 505)), ((0.8, 751), (1.6, 662)))
l_vals = [0.8, 1.0, 1.2, 1.4, 1.6, 2.0, 2.2]
style_axis(PL.p.yaxis[0], [L_T(v) for v in l_vals], ["0.8", "1.0", "1.2", "1.4", "1.6", "2.0", "2.2"],
           (0.8, L_T(2.2)), 12, PL.X(432))
PL.p.xaxis.visible = False
bar(PL, 1, L_bar["neg"], 0.8, 28, "#4a4a4a")
bar(PL, 2, L_bar["pos"], 0.8, 28, GREEN)
swarm(PL, 1, L_neg_vals, L_neg_counts, "#9a9a9a", step=3.0, maxhw=12, T=L_T)
swarm(PL, 2, L_pos_vals, L_pos_counts, "#a9bca6", step=3.5, maxhw=12, T=L_T)
errbar(PL, 1, *L_mean["neg"], hw=9, cap=5, T=L_T)
errbar(PL, 2, *L_mean["pos"], hw=9, cap=5, T=L_T)
bracket(PL, 460, 505, 627, 635)
brk(PL, [(427, 659, 437, 648), (430, 662, 440, 651)])
letter(PL, 358, 607, "L")
txt(PL, 390, 611, "Mito WT", 12.6)
txt(PL, 483, 627, "****", 11, anchor="center")
txt(PL, 384, 686, [("[Mg", "n"), ("2+", "sup"), ("]", "n"), ("c", "sub"), (" influx amplitude", "n")], 14.4,
    anchor="center", angle_deg=90)
txt(PL, 405, 680, FF0, 13, anchor="center", angle_deg=90)
txt(PL, 460, 771, "(-)", 13, anchor="center")
txt(PL, 505, 771, "(+)", 13, GREEN, anchor="center")
txt(PL, 484, 785, "Caffeine", 13, anchor="center")

# ======================= LAYOUT =======================
layout = column(
    row(PA.p, PB.p, PC.p, PD.p),
    row(PE.p, PF.p, PG.p),
    row(PH.p, PI.p, PJ.p),
    row(PK.p, PL.p),
)
open("out.html", "w").write(file_html(layout, INLINE, title="figure"))
